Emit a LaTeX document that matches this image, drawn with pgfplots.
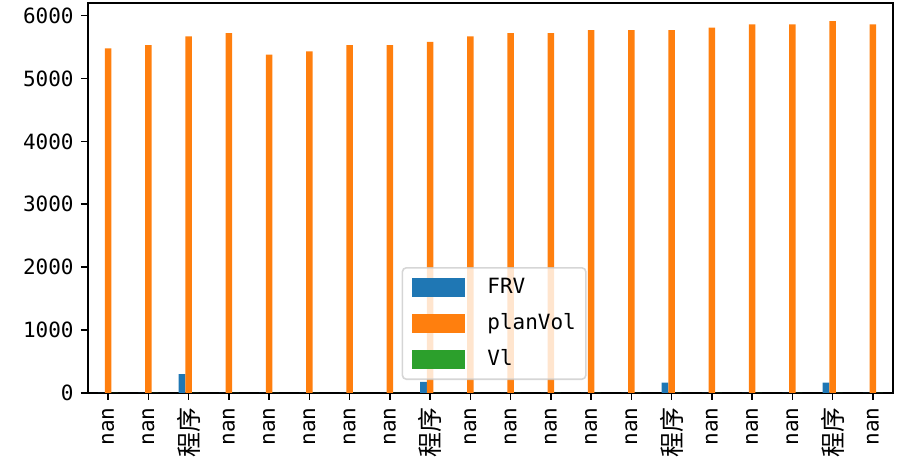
\documentclass[border=0pt]{standalone}
\usepackage{fontspec}
\setmainfont{DejaVu Sans Mono}
\newfontfamily\cjk{Noto Sans CJK SC}
\usepackage{pgfplots}
\pgfplotsset{compat=1.18}
\definecolor{cblue}{HTML}{1F77B4}
\definecolor{corange}{HTML}{FF7F0E}
\definecolor{cgreen}{HTML}{2CA02C}
\newcommand{\cx}{{\cjk\fontsize{12.5}{13}\selectfont 程序}}
\begin{document}
\fontsize{10.5}{12}\selectfont
\begin{tikzpicture}
\path[use as bounding box] (-44pt,-33.5pt) rectangle (406pt,196.5pt);
\begin{axis}[
  at={(0pt,0pt)}, anchor=south west,
  scale only axis, width=402.5pt, height=195pt,
  ybar=0pt, bar width=0.1667,
  xmin=-0.5, xmax=19.5, ymin=0, ymax=6200,
  xtick={0,...,19},
  xticklabels={nan,nan,\cx,nan,nan,nan,nan,nan,\cx,nan,nan,nan,nan,nan,\cx,nan,nan,nan,\cx,nan},
  ytick={0,1000,...,6000},
  tick align=outside, xtick pos=bottom, ytick pos=left,
  major tick length=3.5pt,
  tick style={black, line width=0.8pt},
  axis line style={line width=0.8pt},
  x tick label style={rotate=90, anchor=east},
  /pgf/number format/assume math mode=true,
  /pgf/number format/1000 sep={},
  scaled y ticks=false,
  legend cell align=left,
  legend style={at={(0.5045,0.0333)}, anchor=south, draw=black!20, line width=0.8pt,
    rounded corners=2pt, fill=white, fill opacity=0.8, draw opacity=0.8, text opacity=1,
    inner xsep=5pt, inner ysep=5pt, row sep=8.3pt, column sep=11pt,
    nodes={inner sep=0pt, text height=7.7pt, text depth=2pt}},
]
\addplot[fill=cblue, draw=none, legend image code/.code={\fill[cblue, fill opacity=1, sharp corners] (0pt,-4.75pt) rectangle (26.5pt,4.75pt);}]
  coordinates {(0,0) (1,0) (2,300) (3,0) (4,0) (5,0) (6,0) (7,0) (8,175) (9,0)
  (10,0) (11,0) (12,0) (13,0) (14,165) (15,0) (16,0) (17,0) (18,165) (19,0)};
\addplot[fill=corange, draw=none, legend image code/.code={\fill[corange, fill opacity=1, sharp corners] (0pt,-4.75pt) rectangle (26.5pt,4.75pt);}]
  coordinates {(0,5480) (1,5530) (2,5670) (3,5720) (4,5380) (5,5430) (6,5530) (7,5530) (8,5580) (9,5670)
  (10,5720) (11,5720) (12,5770) (13,5770) (14,5770) (15,5810) (16,5860) (17,5860) (18,5910) (19,5860)};
\addplot[fill=cgreen, draw=none, legend image code/.code={\fill[cgreen, fill opacity=1, sharp corners] (0pt,-4.75pt) rectangle (26.5pt,4.75pt);}]
  coordinates {(0,0) (1,0) (2,0) (3,0) (4,0) (5,0) (6,0) (7,0) (8,0) (9,0)
  (10,0) (11,0) (12,0) (13,0) (14,0) (15,0) (16,0) (17,0) (18,0) (19,0)};
\legend{FRV,planVol\hspace{7.5pt},Vl}
\end{axis}
\end{tikzpicture}
\end{document}
